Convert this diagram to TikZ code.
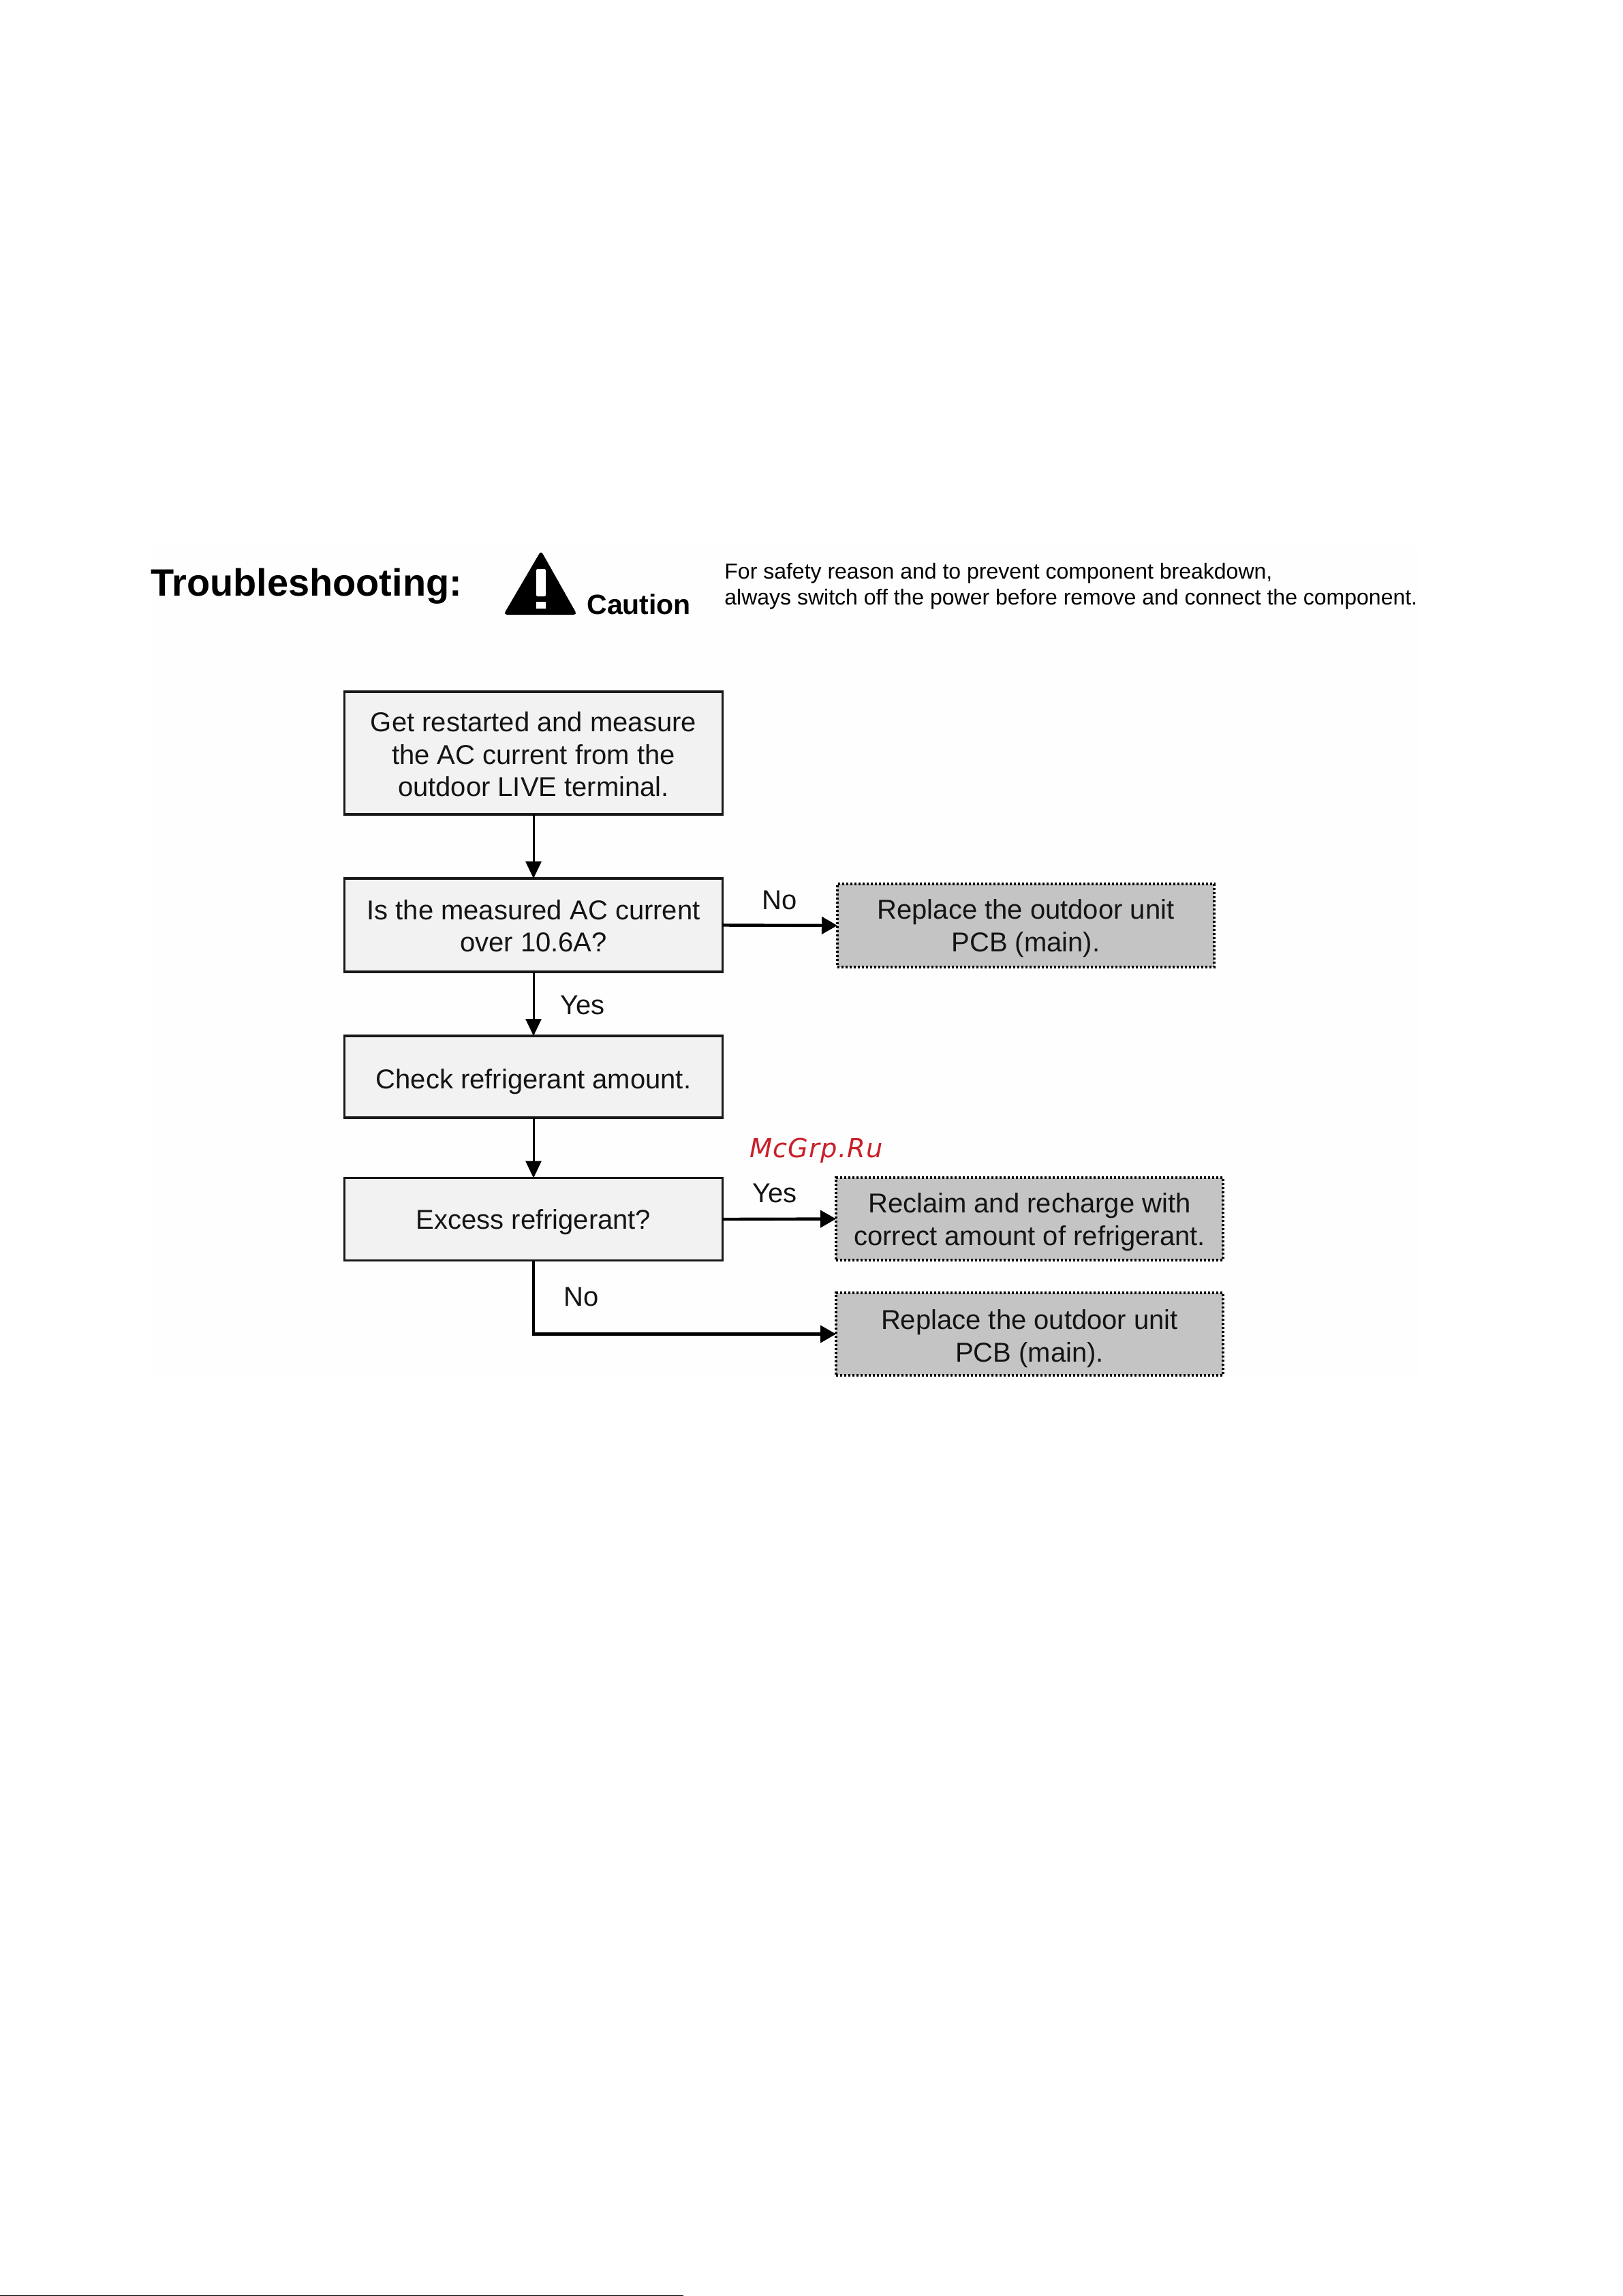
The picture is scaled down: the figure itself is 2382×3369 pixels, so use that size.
\documentclass[tikz,border=0pt]{standalone}
\usepackage{fontspec}
\setmainfont{Liberation Sans}
\newfontfamily\wmfont[LetterSpace=3]{DejaVu Sans}
\usetikzlibrary{arrows.meta,positioning}
\definecolor{boxgray}{HTML}{F2F2F2}
\definecolor{dotgray}{HTML}{C4C4C4}
\definecolor{wmred}{HTML}{C9202A}
\definecolor{tint}{HTML}{FEFEFE}
\newcommand{\lift}[1]{\rule{0pt}{#1pt}}
\tikzset{
  bodytext/.style={font=\fontsize{20}{23.75}\selectfont,align=center,inner sep=0pt,outer sep=0pt,text=black!92},
  procbox/.style={bodytext,draw=black!90,fill=boxgray,line width=1.7pt,minimum width=277.5pt},
  endbox/.style={bodytext,draw=black,fill=dotgray,line width=2pt,dash pattern=on 1.55pt off 1.45pt},
  lab/.style={font=\fontsize{20}{24}\selectfont,inner sep=0pt,text=black!92},
  vflow/.style={draw=black,line width=1.5pt,-{Triangle[length=12.5pt,width=11.5pt]}},
  hflow/.style={draw=black,line width=2.2pt,-{Triangle[length=11.5pt,width=12.5pt]}},
}
\begin{document}
\begin{tikzpicture}[x=0.5pt,y=-0.5pt]
\useasboundingbox (0,0) rectangle (2382,3369);
\fill[white] (0,0) rectangle (2382,3369);
\fill[tint] (222,800) rectangle (2082,2022);
\fill[black] (0,3367.5) rectangle (1003,3369);
% header
\node[font=\fontsize{27.95}{30}\selectfont\bfseries,anchor=west,inner sep=0pt] (title) at (221,860) {Troubleshooting:};
\fill[black,rounded corners=2.5pt] (794,808) -- (847,902) -- (739,902) -- cycle;
\fill[white,rounded corners=1pt] (787,835) rectangle (801,875);
\fill[white] (787,883) rectangle (801,893);
\node[font=\fontsize{20.5}{24}\selectfont\bfseries,anchor=west,inner sep=0pt] (caution) at (861,887) {Caution};
\node[font=\fontsize{16}{19}\selectfont,anchor=west,inner sep=0pt] (note1) at (1063,841) {For safety reason and to prevent component breakdown,};
\node[font=\fontsize{16}{19}\selectfont,anchor=west,inner sep=0pt] (note2) at (1063,879) {always switch off the power before remove and connect the component.};
% boxes
\node[procbox,minimum height=90pt] (b1) at (783,1105) {\lift{16.6}Get restarted and measure\\the AC current from the\\outdoor LIVE terminal.};
\node[procbox,minimum height=68.5pt] (b2) at (783,1357.5) {\lift{15.6}Is the measured AC current\\over 10.6A?};
\node[procbox,minimum height=60pt] (b3) at (783,1580) {\lift{22}Check refrigerant amount.};
\node[procbox,minimum height=60.5pt] (b4) at (783,1789) {\lift{18.9}Excess refrigerant?};
\node[endbox,minimum width=276.5pt,minimum height=61pt] (e1) at (1505.5,1358) {\lift{18.6}Replace the outdoor unit\\PCB (main).};
\node[endbox,minimum width=284pt,minimum height=60.5pt] (e2) at (1511,1788.5) {\lift{18.9}Reclaim and recharge with\\correct amount of refrigerant.};
\node[endbox,minimum width=284pt,minimum height=60.5pt] (e3) at (1511,1957.5) {\lift{21}Replace the outdoor unit\\PCB (main).};
% connectors
\draw[vflow] (b1.south) -- (b2.north);
\draw[vflow] (b2.south) -- (b3.north);
\draw[vflow] (b3.south) -- (b4.north);
\draw[hflow] (b2.east) -- (e1.west);
\draw[hflow] (b4.east) -- (e2.west);
\draw[hflow] (b4.south) |- (e3.west);
% labels
\node[lab] (l1) at (1144,1321) {No};
\node[lab] (l2) at (855,1475) {Yes};
\node[lab] (l3) at (1137,1751) {Yes};
\node[lab] (l4) at (853,1903) {No};
\node[font=\wmfont\itshape\fontsize{19.2}{22}\selectfont,text=wmred,inner sep=0pt,anchor=west] (wm) at (1100,1688) {McGrp.Ru};
\end{tikzpicture}
\end{document}
